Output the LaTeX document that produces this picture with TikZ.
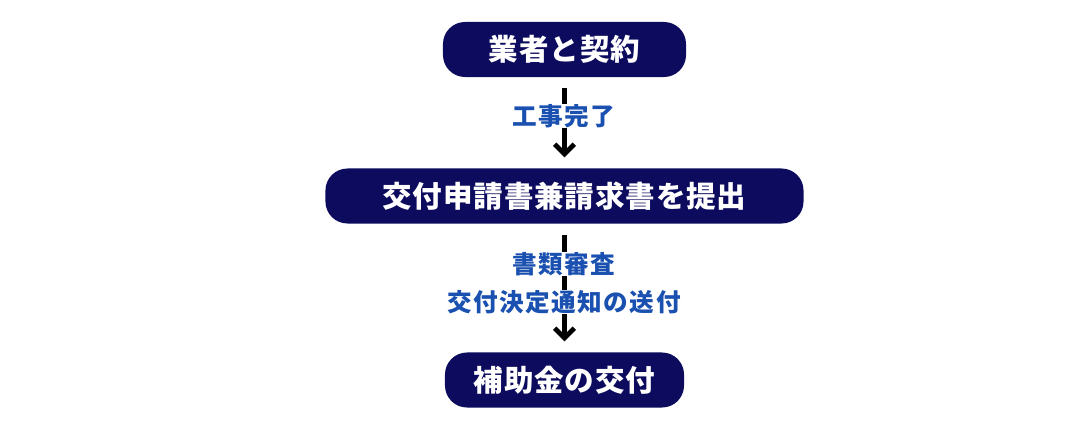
\documentclass[tikz,border=0pt]{standalone}
\usepackage{fontspec}
\usepackage{tikz}
\usetikzlibrary{arrows.meta}

\newfontfamily\jpbox{Noto Sans CJK JP Black}[LetterSpace=3]
\newfontfamily\jplab{Noto Sans CJK JP Black}[LetterSpace=6]
\definecolor{navy}{RGB}{13,11,94}
\definecolor{lblue}{RGB}{26,80,176}

\begin{document}
\begin{tikzpicture}[x=0.025cm,y=-0.025cm,
  box/.style={fill=navy,text=white,rounded corners=0.55cm,minimum height=1.375cm,
    inner sep=0pt,font=\jpbox\fontsize{21pt}{25pt}\selectfont},
  flow/.style={draw=black,line width=3.4pt,-{Straight Barb[length=7pt,width=14pt]},
    shorten <=0.28cm,shorten >=0.27cm},
  lab/.style={fill=white,text=lblue,inner sep=0pt,font=\jplab\fontsize{17.5pt}{20pt}\selectfont}]
  \useasboundingbox (0,0) rectangle (1085,447);

  \node[box,minimum width=6.075cm] (b1) at (564.5,49.5) {業者と契約};
  \node[box,minimum width=11.95cm] (b2) at (564.5,196) {交付申請書兼請求書を提出};
  \node[box,minimum width=5.975cm] (b3) at (564.5,380) {補助金の交付};

  \draw[flow] (b1) -- (b2);
  \draw[flow] (b2) -- (b3);

  \node[lab] (l1) at (564,116) {工事完了};
  \node[lab] (l2) at (564,264) {書類審査};
  \node[lab] (l3) at (564,302) {交付決定通知の送付};

\end{tikzpicture}
\end{document}
